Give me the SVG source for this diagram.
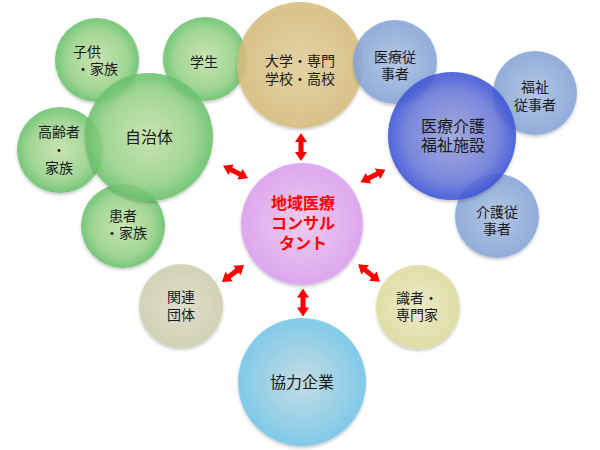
<svg xmlns="http://www.w3.org/2000/svg" width="600" height="450" viewBox="0 0 600 450">
<defs>
<radialGradient id="gGreen"><stop offset="0" stop-color="#c6e3aa"/><stop offset="0.7" stop-color="#98d48a"/><stop offset="1" stop-color="#66c26a"/></radialGradient>
<radialGradient id="gTan"><stop offset="0" stop-color="#e3cf98"/><stop offset="1" stop-color="#d6bd7c"/></radialGradient>
<radialGradient id="gLBlue"><stop offset="0" stop-color="#adc2e3"/><stop offset="1" stop-color="#84a4d8"/></radialGradient>
<radialGradient id="gBlue"><stop offset="0" stop-color="#9ba3dc"/><stop offset="0.7" stop-color="#6b7ada"/><stop offset="1" stop-color="#3a52d8"/></radialGradient>
<radialGradient id="gPink"><stop offset="0" stop-color="#edc8f1"/><stop offset="1" stop-color="#dc9ef0"/></radialGradient>
<radialGradient id="gGray"><stop offset="0" stop-color="#dedecb"/><stop offset="1" stop-color="#cfcfae"/></radialGradient>
<radialGradient id="gYellow"><stop offset="0" stop-color="#ecebc6"/><stop offset="1" stop-color="#e0dc9c"/></radialGradient>
<radialGradient id="gCyan"><stop offset="0" stop-color="#bfdbe2"/><stop offset="1" stop-color="#72c5ea"/></radialGradient>
<filter id="sh" x="-20%" y="-20%" width="140%" height="150%"><feDropShadow dx="0" dy="2" stdDeviation="1.5" flood-color="#000" flood-opacity="0.25"/></filter>
<polygon id="arr" points="-14,0 -5,-6 -5,-2.5 5,-2.5 5,-6 14,0 5,6 5,2.5 -5,2.5 -5,6"/>
</defs>
<style>
.c{fill-opacity:0.85;filter:url(#sh)}
.t{font-family:"Liberation Sans","Noto Sans CJK JP","Noto Sans CJK SC",sans-serif;font-size:14px;fill:#1a1a1a;text-anchor:middle}
.tl{font-size:16px}
.tc{font-family:"Liberation Sans","Noto Sans CJK JP","Noto Sans CJK SC",sans-serif;font-size:16px;font-weight:bold;fill:#ff0000;text-anchor:middle}
.s{text-anchor:start}
.a{fill:#ff0000}
</style>
<rect width="600" height="450" fill="#ffffff"/>
<g id="node-kodomo"><circle class="c" cx="97" cy="60" r="42" fill="url(#gGreen)"/><text class="t"><tspan x="87" y="57">子供</tspan><tspan x="97" y="74">・家族</tspan></text></g>
<g id="node-gakusei"><circle class="c" cx="205" cy="59" r="42" fill="url(#gGreen)"/><text class="t" x="204" y="67">学生</text></g>
<g id="node-koureisha"><circle class="c" cx="60" cy="150" r="43" fill="url(#gGreen)"/><text class="t"><tspan x="59" y="137">高齢者</tspan><tspan x="59" y="155">・</tspan><tspan x="59" y="173">家族</tspan></text></g>
<g id="node-kanja"><circle class="c" cx="123" cy="226" r="42" fill="url(#gGreen)"/><text class="t"><tspan x="123" y="221">患者</tspan><tspan x="126" y="238">・家族</tspan></text></g>
<g id="node-jichitai"><circle class="c" cx="149" cy="137" r="64" fill="url(#gGreen)"/><text class="t tl" x="149" y="143">自治体</text></g>
<g id="node-daigaku"><circle class="c" cx="300" cy="65" r="63" fill="url(#gTan)"/><text class="t"><tspan x="300" y="66">大学・専門</tspan><tspan x="300" y="84">学校・高校</tspan></text></g>
<g id="node-iryoujuujisha"><circle class="c" cx="395" cy="62" r="42" fill="url(#gLBlue)"/><text class="t"><tspan x="395" y="62">医療従</tspan><tspan x="395" y="79">事者</tspan></text></g>
<g id="node-fukushijuujisha"><circle class="c" cx="535" cy="93" r="42" fill="url(#gLBlue)"/><text class="t"><tspan x="535" y="92">福祉</tspan><tspan x="535" y="110">従事者</tspan></text></g>
<g id="node-kaigojuujisha"><circle class="c" cx="497" cy="216" r="42" fill="url(#gLBlue)"/><text class="t"><tspan x="497" y="217">介護従</tspan><tspan x="497" y="234">事者</tspan></text></g>
<g id="node-shisetsu"><circle class="c" cx="452" cy="136" r="64" fill="url(#gBlue)"/><text class="t tl"><tspan x="453" y="132">医療介護</tspan><tspan x="453" y="151">福祉施設</tspan></text></g>
<g id="node-consultant"><circle class="c" cx="302" cy="224" r="61" fill="url(#gPink)" fill-opacity="1"/><text class="tc"><tspan x="303" y="209">地域医療</tspan><tspan x="303" y="229">コンサル</tspan><tspan x="303" y="249">タント</tspan></text></g>
<g id="node-kanrendantai"><circle class="c" cx="181" cy="306" r="42" fill="url(#gGray)"/><text class="t"><tspan x="181" y="302">関連</tspan><tspan x="181" y="320">団体</tspan></text></g>
<g id="node-shikisha"><circle class="c" cx="418" cy="307" r="42" fill="url(#gYellow)"/><text class="t s"><tspan x="396" y="303">識者・</tspan><tspan x="396" y="320">専門家</tspan></text></g>
<g id="node-kyouryoku"><circle class="c" cx="302" cy="382" r="64" fill="url(#gCyan)"/><text class="t tl" x="302" y="388">協力企業</text></g>
<g id="connectors">
<use href="#arr" class="a" transform="translate(301,147) rotate(90)"/>
<use href="#arr" class="a" transform="translate(235.5,172) rotate(27)"/>
<use href="#arr" class="a" transform="translate(373,176) rotate(-27)"/>
<use href="#arr" class="a" transform="translate(233,273.5) rotate(-38)"/>
<use href="#arr" class="a" transform="translate(369,273) rotate(39)"/>
<use href="#arr" class="a" transform="translate(303,302.5) rotate(90)"/>
</g>
</svg>
